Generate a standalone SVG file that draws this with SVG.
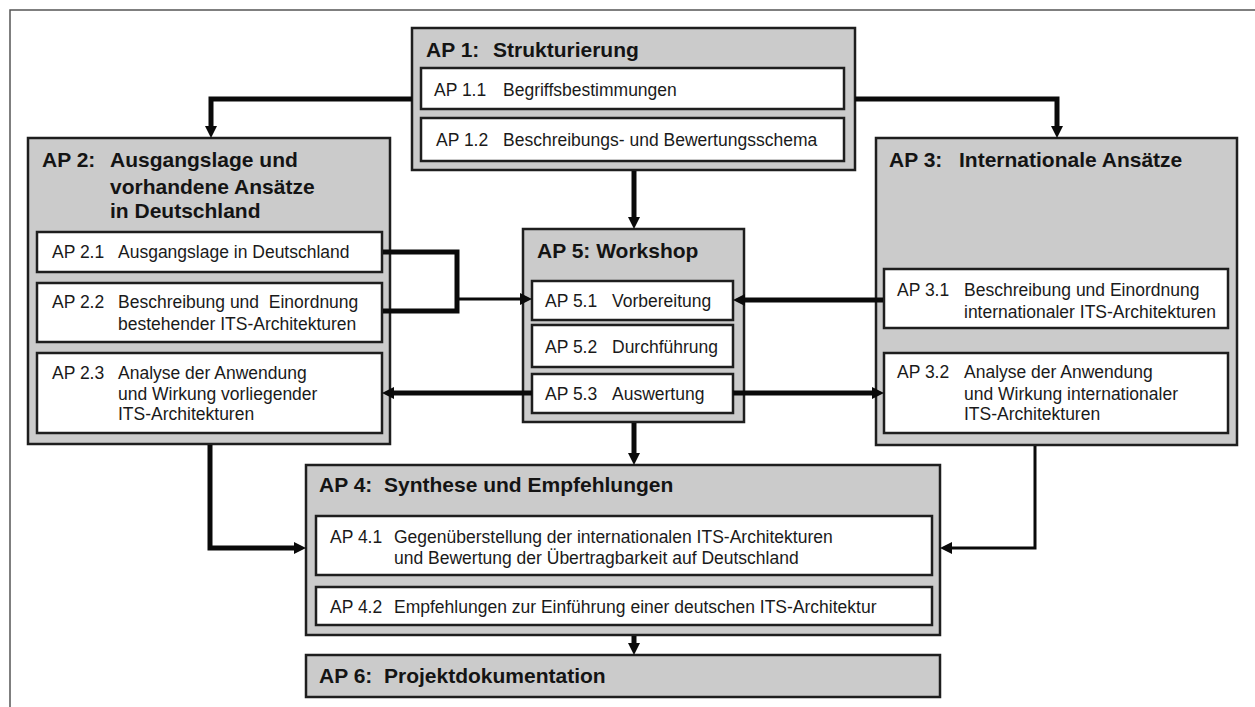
<svg xmlns="http://www.w3.org/2000/svg" width="1255" height="707" viewBox="0 0 1255 707">
<style>
.outer{fill:#cbcbcb;stroke:#1e1e1e;stroke-width:2.5}
.inner{fill:#ffffff;stroke:#1e1e1e;stroke-width:2.5}
.t{font-family:"Liberation Sans",Arial,sans-serif;font-weight:bold;font-size:21px;fill:#141414}
.b{font-family:"Liberation Sans",Arial,sans-serif;font-size:17.5px;fill:#1a1a1a}
.c{fill:none;stroke:#0a0a0a;stroke-width:5}
.c3{fill:none;stroke:#0a0a0a;stroke-width:3}
.frame{fill:none;stroke:#555;stroke-width:1.5}
</style>
<defs>
<marker id="ah" markerUnits="userSpaceOnUse" markerWidth="12" markerHeight="12" refX="1" refY="6" orient="auto">
<path d="M0,0 L12,6 L0,12 z" fill="#0a0a0a"/>
</marker>
</defs>
<rect width="1255" height="707" fill="#ffffff"/>
<path class="frame" d="M10,707 V10 H1255"/>

<g id="ap1">
<rect class="outer" x="412" y="28" width="443" height="142"/>
<text class="t" x="426" y="57">AP 1:</text><text class="t" x="493" y="57">Strukturierung</text>
<rect class="inner" x="421" y="68" width="423" height="41"/>
<text class="b" x="434" y="96">AP 1.1</text><text class="b" x="503" y="96">Begriffsbestimmungen</text>
<rect class="inner" x="421" y="118" width="423" height="43"/>
<text class="b" x="436" y="146">AP 1.2</text><text class="b" x="503" y="146">Beschreibungs- und Bewertungsschema</text>
</g>

<g id="ap2">
<rect class="outer" x="28" y="138" width="362" height="306"/>
<text class="t" x="42" y="167">AP 2:</text><text class="t" x="110" y="167">Ausgangslage und</text>
<text class="t" x="110" y="194">vorhandene Ansätze</text>
<text class="t" x="110" y="218">in Deutschland</text>
<rect class="inner" x="37" y="232" width="345" height="40"/>
<text class="b" x="52" y="258">AP 2.1</text><text class="b" x="118" y="258">Ausgangslage in Deutschland</text>
<rect class="inner" x="37" y="283" width="345" height="59"/>
<text class="b" x="52" y="308">AP 2.2</text><text class="b" x="118" y="308" xml:space="preserve">Beschreibung und  Einordnung</text>
<text class="b" x="118" y="330">bestehender ITS-Architekturen</text>
<rect class="inner" x="37" y="353" width="345" height="80"/>
<text class="b" x="52" y="379">AP 2.3</text><text class="b" x="118" y="379">Analyse der Anwendung</text>
<text class="b" x="118" y="400">und Wirkung vorliegender</text>
<text class="b" x="118" y="420">ITS-Architekturen</text>
</g>

<g id="ap3">
<rect class="outer" x="876" y="138" width="361" height="307"/>
<text class="t" x="889" y="167">AP 3:</text><text class="t" x="959" y="167">Internationale Ansätze</text>
<rect class="inner" x="884" y="269" width="344" height="59"/>
<text class="b" x="897" y="296">AP 3.1</text><text class="b" x="964" y="296">Beschreibung und Einordnung</text>
<text class="b" x="964" y="318">internationaler ITS-Architekturen</text>
<rect class="inner" x="884" y="353" width="344" height="80"/>
<text class="b" x="897" y="378">AP 3.2</text><text class="b" x="964" y="378">Analyse der Anwendung</text>
<text class="b" x="964" y="400">und Wirkung internationaler</text>
<text class="b" x="964" y="420">ITS-Architekturen</text>
</g>

<g id="ap5">
<rect class="outer" x="523" y="229" width="221" height="193"/>
<text class="t" x="537" y="258">AP 5: Workshop</text>
<rect class="inner" x="532" y="281" width="201" height="39"/>
<text class="b" x="545" y="307">AP 5.1</text><text class="b" x="612" y="307">Vorbereitung</text>
<rect class="inner" x="532" y="325" width="201" height="42"/>
<text class="b" x="545" y="353">AP 5.2</text><text class="b" x="612" y="353">Durchführung</text>
<rect class="inner" x="532" y="374" width="201" height="39"/>
<text class="b" x="545" y="400">AP 5.3</text><text class="b" x="612" y="400">Auswertung</text>
</g>

<g id="ap4">
<rect class="outer" x="306" y="465" width="634" height="170"/>
<text class="t" x="319" y="492">AP 4:</text><text class="t" x="384" y="492">Synthese und Empfehlungen</text>
<rect class="inner" x="316" y="516" width="616" height="59"/>
<text class="b" x="330" y="543">AP 4.1</text><text class="b" x="394" y="543">Gegenüberstellung der internationalen ITS-Architekturen</text>
<text class="b" x="394" y="564">und Bewertung der Übertragbarkeit auf Deutschland</text>
<rect class="inner" x="316" y="587" width="616" height="38"/>
<text class="b" x="330" y="613">AP 4.2</text><text class="b" x="394" y="613">Empfehlungen zur Einführung einer deutschen ITS-Architektur</text>
</g>

<g id="ap6">
<rect class="outer" x="306" y="655" width="634" height="42"/>
<text class="t" x="319" y="683">AP 6:</text><text class="t" x="384" y="683">Projektdokumentation</text>
</g>

<g id="connectors">
<path class="c" d="M412,99 H211 V127" marker-end="url(#ah)"/>
<path class="c" d="M855,99 H1057 V127" marker-end="url(#ah)"/>
<path class="c" d="M634,171 V218" marker-end="url(#ah)"/>
<path class="c" d="M383,252 H457 V311 H383"/>
<path class="c3" d="M457,299 H521" marker-end="url(#ah)"/>
<path class="c" d="M883,300 H744" marker-end="url(#ah)"/>
<path class="c" d="M532,393 H393" marker-end="url(#ah)"/>
<path class="c" d="M733,393 H873" marker-end="url(#ah)"/>
<path class="c" d="M634,423 V454" marker-end="url(#ah)"/>
<path class="c" d="M634,636 V644" marker-end="url(#ah)"/>
<path class="c" d="M210,445 V548 H295" marker-end="url(#ah)"/>
<path class="c3" d="M1035,446 V548 H951" marker-end="url(#ah)"/>
</g>
</svg>
